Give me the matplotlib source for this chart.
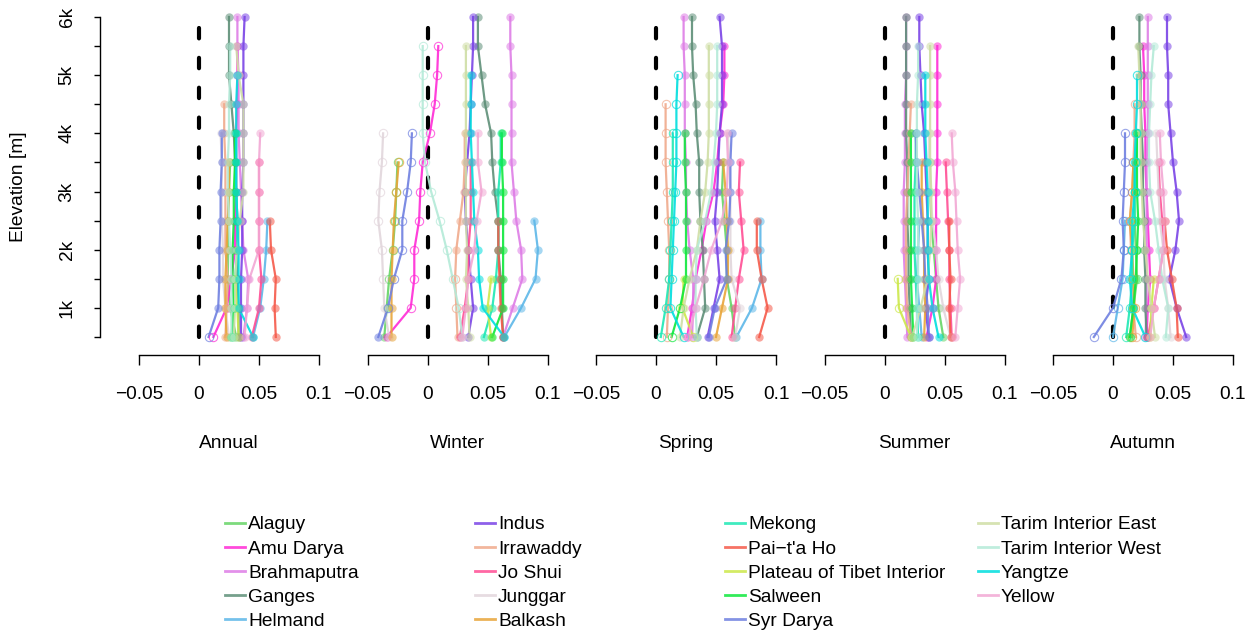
import numpy as np
import matplotlib
matplotlib.use('Agg')
import matplotlib.pyplot as plt
from matplotlib.lines import Line2D

plt.rcParams['font.family'] = ['Liberation Sans', 'DejaVu Sans']
plt.rcParams['lines.scale_dashes'] = False

N = np.nan
FS = 13.8

# elevation bands (m) and basins
elev = np.arange(500, 6001, 500)
basins = ["Alaguy", "Amu Darya", "Brahmaputra", "Ganges", "Helmand",
          "Indus", "Irrawaddy", "Jo Shui", "Junggar", "Balkash",
          "Mekong", "Pai\u2212t'a Ho", "Plateau of Tibet Interior", "Salween", "Syr Darya",
          "Tarim Interior East", "Tarim Interior West", "Yangtze", "Yellow"]
colors = ["#66d466", "#ff2bd6", "#de7de6", "#5e8f78", "#5db7e8",
          "#7a44e6", "#f0aa8c", "#ff4d94", "#e2d6dc", "#e8a53a",
          "#1ee8b4", "#f55a4a", "#cce84a", "#0ee83c", "#6f80e0",
          "#cfdea5", "#b4ead8", "#00dede", "#f2a8d4"]

seasons = ["Annual", "Winter", "Spring", "Summer", "Autumn"]
xticks = [-0.05, 0, 0.05, 0.1]
xticklabels = ["\u22120.05", "0", "0.05", "0.1"]
yticks = [1000, 2000, 3000, 4000, 5000, 6000]
yticklabels = ["1k", "2k", "3k", "4k", "5k", "6k"]

# trend values (x 1/1000), rows = basins, columns = 500 ... 6000 m
annual = np.array([
    [31, 26, 24, 24, 24, 25, 26, N, N, N, N, N],
    [12, 23, 27, 30, 30, 31, 31, 31, 32, 32, 32, N],
    [37, 40, 41, 37, 36, 35, 34, 33, 33, 33, 32, 32],
    [33, 33, 32, 32, 32, 31, 30, 29, 27, 25, 25, 25],
    [45, 51, 54, 56, 57, N, N, N, N, N, N, N],
    [35, 35, 35, 36, 36, 36, 37, 37, 37, 37, 37, 38],
    [22, 23, 24, 22, 22, 22, 22, 21, 21, N, N, N],
    [44, 50, 52, 50, 50, 50, 50, N, N, N, N, N],
    [25, 22, 20, 20, 19, 19, 19, 18, N, N, N, N],
    [23, 22, 22, 23, 24, 25, 25, N, N, N, N, N],
    [28, 29, 30, 32, 32, 31, 31, 31, N, N, N, N],
    [64, 63, 64, 60, 59, N, N, N, N, N, N, N],
    [33, 32, 30, N, N, N, N, N, N, N, N, N],
    [27, 29, 28, 28, 29, 29, 30, 30, N, N, N, N],
    [8, 16, 17, 17, 18, 18, 19, 19, N, N, N, N],
    [29, 30, 30, 32, 34, 37, 37, 37, 37, 33, 31, N],
    [27, 27, 27, 26, 25, 24, 24, 25, 25, 26, 26, N],
    [45, 33, 33, 33, 32, 31, 31, 31, 31, 32, N, N],
    [38, 40, 42, 50, 50, 50, 50, 51, N, N, N, N],
]) / 1000

winter = np.array([
    [-36, -34, -32, -29, -27, -26, -25, N, N, N, N, N],
    [-34, -14, -11, -11, -7, -6, -4, 2, 6, 8, 9, N],
    [63, 71, 79, 78, 74, 72, 70, 70, 70, 70, 69, 69],
    [63, 62, 61, 59, 59, 56, 54, 53, 48, 45, 42, 42],
    [64, 78, 90, 92, 89, N, N, N, N, N, N, N],
    [34, 38, 36, 34, 32, 31, 33, 35, 36, 37, 38, 38],
    [25, 24, 23, 24, 27, 30, 31, 31, N, N, N, N],
    [27, 31, 34, 34, 36, 36, 36, N, N, N, N, N],
    [-32, -36, -37, -38, -41, -40, -38, -37, N, N, N, N],
    [-30, -30, -30, -29, -28, -26, -24, N, N, N, N, N],
    [47, 54, 57, 59, 59, 59, 61, 61, N, N, N, N],
    [63, 61, 60, 59, 59, N, N, N, N, N, N, N],
    [53, 50, 53, N, N, N, N, N, N, N, N, N],
    [54, 63, 63, 63, 63, 63, 62, 62, N, N, N, N],
    [-41, -33, -28, -21, -21, -17, -14, -13, N, N, N, N],
    [35, 34, 32, 33, 32, 32, 32, 32, 32, 32, 32, N],
    [29, 26, 21, 16, 10, 3, -2, -4, -4, -4, -4, N],
    [64, 46, 43, 42, 39, 38, 37, 36, 36, 36, N, N],
    [29, 32, 34, 39, 41, 45, 42, 42, N, N, N, N],
]) / 1000

spring = np.array([
    [66, 63, 59, 59, 57, 55, 56, N, N, N, N, N],
    [26, 30, 33, 38, 42, 48, 51, 53, 56, 57, 57, N],
    [30, 31, 31, 28, 26, 25, 25, 24, 24, 24, 23, 23],
    [34, 41, 40, 39, 37, 36, 36, 34, 33, 31, 30, 30],
    [67, 80, 88, 87, 87, N, N, N, N, N, N, N],
    [43, 48, 53, 51, 49, 51, 52, 53, 55, 55, 55, 53],
    [9, 10, 11, 11, 10, 9, 8, 8, 8, N, N, N],
    [63, 66, 69, 73, 71, 69, 70, N, N, N, N, N],
    [66, 70, 63, 62, 62, 62, 61, 60, N, N, N, N],
    [50, 55, 60, 60, 59, 58, 56, N, N, N, N, N],
    [4, 8, 11, 12, 13, 14, 14, 14, N, N, N, N],
    [86, 93, 88, 84, 84, N, N, N, N, N, N, N],
    [31, 22, 23, N, N, N, N, N, N, N, N, N],
    [13, 20, 25, 25, 25, 25, 24, 24, N, N, N, N],
    [44, 49, 59, 58, 61, 62, 62, 63, N, N, N, N],
    [20, 23, 28, 34, 37, 41, 43, 44, 44, 44, 44, N],
    [34, 33, 33, 34, 41, 46, 48, 50, 51, 51, 51, N],
    [23, 12, 13, 14, 15, 16, 17, 17, 17, 18, N, N],
    [27, 33, 40, 46, 55, 59, 60, 59, N, N, N, N],
]) / 1000

summer = np.array([
    [49, 45, 43, 41, 39, 38, 38, N, N, N, N, N],
    [35, 40, 43, 43, 43, 43, 44, 44, 44, 44, 44, N],
    [19, 18, 17, 16, 16, 16, 17, 17, 17, 18, 18, 18],
    [22, 21, 20, 20, 19, 19, 19, 18, 18, 18, 18, 18],
    [31, 29, 27, 28, 29, N, N, N, N, N, N, N],
    [37, 34, 37, 36, 36, 35, 34, 33, 31, 30, 29, 29],
    [22, 19, 18, 18, 18, 19, 20, 21, 22, N, N, N],
    [56, 55, 54, 54, 53, 52, 51, N, N, N, N, N],
    [55, 49, 45, 43, 40, 38, 37, 37, N, N, N, N],
    [33, 34, 33, 33, 32, 31, 31, N, N, N, N, N],
    [28, 27, 26, 25, 25, 25, 26, 26, N, N, N, N],
    [55, 54, 55, 54, 54, N, N, N, N, N, N, N],
    [22, 12, 11, N, N, N, N, N, N, N, N, N],
    [24, 23, 22, 22, 22, 22, 22, 22, N, N, N, N],
    [37, 36, 34, 33, 31, 29, 27, 26, N, N, N, N],
    [23, 30, 36, 38, 39, 39, 38, 38, 38, 38, 38, N],
    [27, 27, 28, 28, 28, 27, 27, 27, 27, 28, 28, N],
    [45, 40, 37, 36, 36, 36, 35, 34, 34, 34, N, N],
    [59, 61, 63, 61, 60, 59, 57, 56, N, N, N, N],
]) / 1000

autumn = np.array([
    [14, 17, 20, 19, 18, 18, 17, N, N, N, N, N],
    [28, 29, 31, 30, 29, 28, 27, 27, 26, 26, 25, N],
    [27, 28, 28, 28, 28, 28, 28, 29, 29, 29, 29, 29],
    [28, 27, 27, 26, 26, 25, 25, 24, 23, 23, 22, 22],
    [0, 4, 8, 9, 10, N, N, N, N, N, N, N],
    [61, 53, 47, 52, 55, 53, 50, 48, 46, 46, 45, 45],
    [19, 17, 16, 15, 14, 16, 17, 18, 18, N, N, N],
    [29, 34, 38, 42, 41, 39, 38, N, N, N, N, N],
    [48, 46, 43, 42, 39, 38, 37, 36, N, N, N, N],
    [16, 18, 17, 16, 14, 16, 17, N, N, N, N, N],
    [11, 14, 16, 16, 18, 18, 19, 20, N, N, N, N],
    [54, 53, 49, 45, 43, N, N, N, N, N, N, N],
    [31, 32, 34, N, N, N, N, N, N, N, N, N],
    [14, 17, 19, 20, 21, 20, 20, 20, N, N, N, N],
    [-16, 0, 7, 9, 8, 9, 10, 10, N, N, N, N],
    [35, 32, 29, 27, 25, 24, 23, 23, 23, 22, 21, N],
    [44, 46, 41, 38, 35, 31, 30, 30, 31, 32, 34, N],
    [27, 16, 14, 16, 16, 18, 18, 19, 20, 20, N, N],
    [31, 34, 38, 42, 43, 42, 40, 39, N, N, N, N],
]) / 1000

# non-significant (open circle) elevations per basin
open_annual = {"Syr Darya": [500], "Amu Darya": [500]}
open_winter = {"Alaguy": [1500, 2000, 2500, 3000, 3500],
               "Amu Darya": list(range(1000, 5501, 500)),
               "Junggar": list(range(1500, 4001, 500)),
               "Balkash": [2500, 3000, 3500],
               "Syr Darya": list(range(1000, 4001, 500)),
               "Tarim Interior West": list(range(1000, 5501, 500)),
               "Irrawaddy": [1000, 1500]}
open_spring = {"Irrawaddy": list(range(500, 4501, 500)),
               "Yangtze": list(range(500, 5001, 500)),
               "Mekong": list(range(500, 4001, 500)),
               "Salween": [500, 1000],
               "Plateau of Tibet Interior": [500, 1000]}
open_summer = {"Plateau of Tibet Interior": [1000, 1500]}
open_autumn = {"Syr Darya": list(range(500, 4001, 500)),
               "Helmand": list(range(500, 2501, 500)),
               "Yangtze": list(range(500, 5001, 500)),
               "Mekong": list(range(500, 4001, 500)),
               "Irrawaddy": list(range(500, 4501, 500)),
               "Alaguy": list(range(500, 3501, 500)),
               "Balkash": list(range(500, 3501, 500))}

trend = {"Annual": annual, "Winter": winter, "Spring": spring,
         "Summer": summer, "Autumn": autumn}
open_pts = {"Annual": open_annual, "Winter": open_winter, "Spring": open_spring,
            "Summer": open_summer, "Autumn": open_autumn}

W, H = 1252, 633
fig = plt.figure(figsize=(W / 100, H / 100), dpi=100)

for i, season in enumerate(seasons):
    zero = 199 + 228.5 * i
    ax = fig.add_axes([(zero - 66) / W, (H - 337) / H, 192 / W, 320 / H])
    ax.set_xlim(-0.055, 0.105)
    ax.set_ylim(500, 6000)
    ax.patch.set_visible(False)

    # zero line
    ax.plot([0, 0], [500, 6000], color='black', lw=3.0, ls=(0, (7.5, 14)),
            dash_capstyle='round', clip_on=False, zorder=1)

    vals = trend[season]
    for b, name in enumerate(basins):
        v = vals[b]
        ok = ~np.isnan(v)
        op = np.isin(elev, open_pts[season].get(name, []))
        ax.plot(v[ok], elev[ok], color=colors[b], lw=1.6, alpha=0.9,
                clip_on=False, zorder=2)
        f = ok & ~op
        ax.plot(v[f], elev[f], 'o', ms=6, color=colors[b], mec='none',
                alpha=0.55, clip_on=False, zorder=3)
        o = ok & op
        ax.plot(v[o], elev[o], 'o', ms=6, mfc='none', mec=colors[b],
                mew=0.8, alpha=0.7, clip_on=False, zorder=3)

    for s in ['top', 'right']:
        ax.spines[s].set_visible(False)
    ax.spines['bottom'].set_position(('outward', 13))
    ax.spines['bottom'].set_bounds(-0.05, 0.1)
    ax.spines['bottom'].set_linewidth(1.0)
    ax.set_xticks(xticks, labels=xticklabels)
    ax.tick_params(axis='x', length=7.5, width=1.0, pad=14.5, labelsize=FS)
    ax.set_xlabel(season, fontsize=FS, labelpad=23)

    if i == 0:
        ax.spines['left'].set_position(('outward', 24))
        ax.spines['left'].set_linewidth(1.0)
        ax.set_yticks(yticks, labels=yticklabels)
        ax.set_yticks(np.arange(500, 6000, 1000), minor=True)
        ax.tick_params(axis='y', which='both', length=4.3, width=1.0)
        ax.tick_params(axis='y', labelsize=FS, pad=13)
        for t in ax.get_yticklabels():
            t.set_rotation(90)
            t.set_va('center')
    else:
        ax.spines['left'].set_visible(False)
        ax.set_yticks([])

fig.text(19 / W, 1 - 187 / H, "Elevation [m]", rotation=90, ha='center',
         va='center', fontsize=FS)

# legend, four columns
col_x = [225, 475, 725, 978]
for c in range(4):
    idx = list(range(c * 5, min(c * 5 + 5, len(basins))))
    handles = [Line2D([], [], color=colors[k], lw=2, alpha=0.85) for k in idx]
    fig.legend(handles, [basins[k] for k in idx], loc='upper left',
               bbox_to_anchor=(col_x[c] / W, 1 - 516 / H), frameon=False,
               borderpad=0, borderaxespad=0, handlelength=1.04,
               handletextpad=0.16, labelspacing=0.35, fontsize=FS)

fig.savefig('out.png', dpi=100)
